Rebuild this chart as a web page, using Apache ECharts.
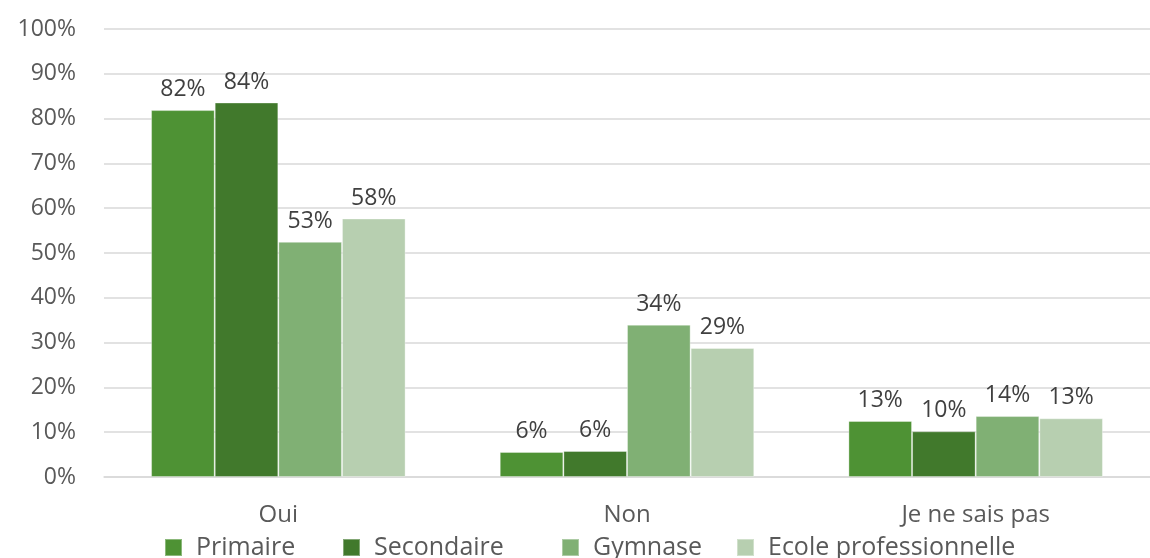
<!DOCTYPE html>
<html>
<head>
<meta charset="utf-8">
<script src="https://cdn.jsdelivr.net/npm/echarts@6/dist/echarts.min.js"></script>
<style>
  html, body { margin: 0; padding: 0; background: #fff; }
  #chart { width: 1150px; height: 558px; }
</style>
</head>
<body>
<div id="chart"></div>
<script>
const categories = ['Oui', 'Non', 'Je ne sais pas'];
const seriesNames = ['Primaire', 'Secondaire', 'Gymnase', 'Ecole professionnelle'];
const primaire = [81.9, 5.6, 12.5];
const secondaire = [83.6, 5.8, 10.2];
const gymnase = [52.5, 34.0, 13.6];
const ecolePro = [57.7, 28.8, 13.1];
const yTicks = [0, 10, 20, 30, 40, 50, 60, 70, 80, 90, 100];

const colors = ['#4e9234', '#41792c', '#80b074', '#b7cfb0'];
const font = '"Open Sans", sans-serif';
const legendLeft = [164, 342, 561, 736];

const chart = echarts.init(document.getElementById('chart'));

const makeSeries = (name, data, color) => ({
  name,
  type: 'bar',
  data,
  barGap: '0%',
  barCategoryGap: '27%',
  animation: false,
  itemStyle: { color, borderColor: 'rgba(255,255,255,0.35)', borderWidth: 1 },
  label: {
    show: true,
    position: 'top',
    distance: 9,
    color: '#404040',
    fontFamily: font,
    fontSize: 23,
    formatter: (p) => Math.round(p.value) + '%',
  },
});

const option = {
  backgroundColor: '#fff',
  grid: { left: 104, top: 29, width: 1057, height: 448 },
  legend: seriesNames.map((name, i) => ({
    left: legendLeft[i],
    top: 535,
    padding: 0,
    icon: 'rect',
    itemWidth: 17,
    itemHeight: 17,
    textStyle: { color: '#595959', fontFamily: font, fontSize: 25, padding: [0, 0, 0, 9] },
    data: [name],
  })),
  xAxis: {
    type: 'category',
    data: categories,
    axisLine: { show: true, lineStyle: { color: '#d9d9d9', width: 1.5 } },
    axisTick: { show: false },
    axisLabel: { color: '#595959', fontFamily: font, fontSize: 24, margin: 26 },
  },
  yAxis: {
    type: 'value',
    min: yTicks[0],
    max: yTicks[yTicks.length - 1],
    interval: 10,
    axisLine: { show: false },
    axisTick: { show: false },
    splitLine: { lineStyle: { color: '#d9d9d9', width: 1.5 } },
    axisLabel: { color: '#595959', fontFamily: font, fontSize: 23, margin: 28, formatter: '{value}%' },
  },
  series: [
    makeSeries(seriesNames[0], primaire, colors[0]),
    makeSeries(seriesNames[1], secondaire, colors[1]),
    makeSeries(seriesNames[2], gymnase, colors[2]),
    makeSeries(seriesNames[3], ecolePro, colors[3]),
  ],
};
chart.setOption(option);
</script>
</body>
</html>
